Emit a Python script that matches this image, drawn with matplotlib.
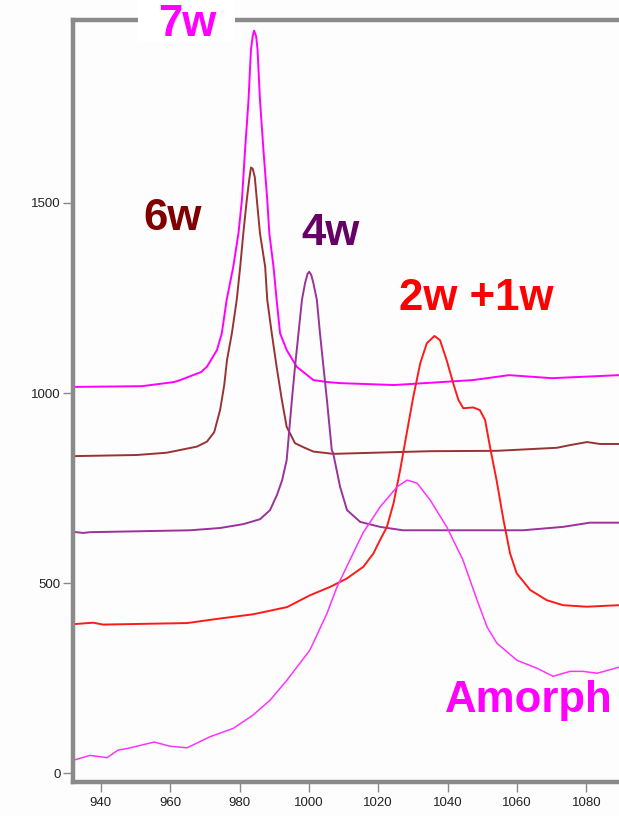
import matplotlib
matplotlib.use("Agg")
import matplotlib.pyplot as plt
from matplotlib.patches import Rectangle

# Wavenumber (cm-1) / intensity pairs for each hydration series
w7_x = [932.0, 951.9, 961.2, 962.9, 968.9, 970.6, 973.5, 974.9, 976.3, 978.2,
        979.7, 980.7, 981.6, 982.6, 983.3, 983.8, 984.2, 984.8, 985.2, 985.9,
        986.9, 988.0, 988.6, 989.8, 990.7, 991.7, 993.6, 996.5, 1001.3, 1005.2,
        1009.0, 1024.6, 1047.3, 1057.7, 1070.1, 1089.4]
w7_y = [1016, 1018, 1029, 1034, 1055, 1069, 1113, 1157, 1245, 1332,
        1420, 1508, 1639, 1771, 1903, 1938, 1953, 1938, 1903, 1771,
        1639, 1508, 1420, 1332, 1245, 1157, 1113, 1069, 1034, 1029,
        1026, 1021, 1034, 1047, 1039, 1047]

w6_x = [932.0, 950.4, 959.0, 967.7, 970.6, 972.7, 974.4, 975.6, 976.4, 977.8,
        979.2, 980.2, 981.1, 982.1, 982.8, 983.3, 983.8, 984.4, 985.0, 985.9,
        987.4, 988.0, 989.3, 990.7, 992.2, 993.6, 996.0, 998.3, 1001.3, 1007.0,
        1034.9, 1054.2, 1071.5, 1075.3, 1080.2, 1083.9, 1089.4]
w6_y = [834, 837, 843, 859, 872, 897, 955, 1021, 1087, 1157,
        1245, 1332, 1420, 1508, 1561, 1593, 1590, 1568, 1508, 1420,
        1332, 1245, 1157, 1069, 982, 911, 868, 858, 846, 840,
        847, 848, 856, 863, 871, 866, 866]

w4_x = [932.0, 934.9, 936.9, 965.8, 974.4, 981.0, 985.9, 988.8, 990.8, 992.3,
        993.6, 995.1, 996.0, 997.0, 998.0, 998.9, 999.6, 1000.1, 1000.7, 1001.3,
        1002.3, 1003.2, 1004.2, 1005.2, 1006.6, 1007.0, 1009.0, 1011.0, 1014.8, 1020.5,
        1027.1, 1061.7, 1073.3, 1081.0, 1089.4]
w4_y = [635, 632, 634, 639, 645, 655, 668, 692, 732, 771,
        824, 982, 1069, 1157, 1245, 1289, 1313, 1319, 1310, 1289,
        1245, 1157, 1069, 982, 850, 842, 753, 692, 661, 648,
        639, 639, 648, 659, 659]

w21_x = [932.0, 937.8, 940.7, 964.9, 974.4, 983.9, 993.7, 1000.3, 1006.1, 1010.9,
         1015.7, 1018.6, 1020.5, 1022.5, 1024.4, 1026.3, 1028.2, 1030.1, 1032.1, 1034.0,
         1036.2, 1037.8, 1039.7, 1041.6, 1043.1, 1044.5, 1047.4, 1049.3, 1050.8, 1052.2,
         1054.1, 1056.1, 1058.0, 1059.9, 1063.8, 1068.6, 1073.3, 1080.1, 1089.4]
w21_y = [392, 396, 391, 395, 407, 418, 437, 468, 490, 512,
         543, 578, 613, 648, 710, 797, 894, 990, 1078, 1131,
         1150, 1139, 1087, 1026, 982, 960, 962, 955, 929, 859,
         771, 666, 578, 526, 482, 455, 442, 438, 442]

am_x = [932.0, 936.9, 941.8, 945.0, 947.6, 955.4, 960.0, 964.9, 971.5, 978.2,
        983.9, 988.8, 993.7, 1000.3, 1005.2, 1008.1, 1011.0, 1015.6, 1020.5, 1025.4,
        1028.3, 1031.2, 1035.0, 1039.8, 1044.4, 1048.5, 1051.4, 1054.2, 1060.0, 1065.8,
        1070.4, 1075.3, 1079.0, 1083.1, 1089.4]
am_y = [34, 47, 41, 61, 65, 82, 71, 67, 96, 118,
        153, 192, 245, 324, 420, 490, 545, 632, 700, 753,
        771, 763, 718, 647, 561, 455, 384, 342, 297, 276,
        255, 268, 268, 263, 279]

x_ticks = [940, 960, 980, 1000, 1020, 1040, 1060, 1080]
y_ticks = [0, 500, 1000, 1500]

W, H = 619, 816
fig = plt.figure(figsize=(W / 100, H / 100), dpi=100, facecolor="#fdfdfd")
ax = fig.add_axes([73 / W, 1 - 782 / H, 1 - 73 / W, (782 - 20) / H])
ax.set_facecolor("#fdfdfd")

ax.plot(w7_x, w7_y, color="#ff00ff", lw=1.4)
ax.plot(w6_x, w6_y, color="#993333", lw=1.4)
ax.plot(w4_x, w4_y, color="#993399", lw=1.4)
ax.plot(w21_x, w21_y, color="#ff1a1a", lw=1.4)
ax.plot(am_x, am_y, color="#ff33ff", lw=1.1)

ax.set_xlim(932.0, 1089.4)
ax.set_ylim(-23, 1981)
ax.set_xticks(x_ticks)
ax.set_yticks(y_ticks)

for side in ("left", "bottom", "top"):
    ax.spines[side].set_color("#8a8a8a")
    ax.spines[side].set_linewidth(3.2)
ax.spines["right"].set_visible(False)

ax.tick_params(axis="both", direction="out", length=7, width=1, color="#8a8a8a",
               labelsize=9.5, labelcolor="#222222", pad=2)
ax.tick_params(axis="x", pad=4)
for lbl in ax.get_xticklabels() + ax.get_yticklabels():
    lbl.set_family("Liberation Sans")

# white patch breaking the top frame behind the 7w title
ax.add_patch(Rectangle((138 / W, 1 - 42 / H), 97 / W, 42 / H,
                       transform=fig.transFigure, facecolor="white",
                       edgecolor="none", clip_on=False, zorder=5))

lab = dict(fontsize=31.5, fontweight="bold", family="Liberation Sans",
           ha="center", va="baseline", zorder=6)
ax.text(964.9, 1938, "7w", color="#ff00ff", clip_on=False, **lab)
ax.text(960.7, 1429, "6w", color="#800000", **lab)
ax.text(1006.2, 1390, "4w", color="#660066", **lab)
ax.text(1048.3, 1218, "2w +1w", color="#ff0000", **lab)
ax.text(1063.3, 160, "Amorph", color="#ff00ff", **lab)

fig.savefig("out.png", dpi=100, facecolor=fig.get_facecolor())
